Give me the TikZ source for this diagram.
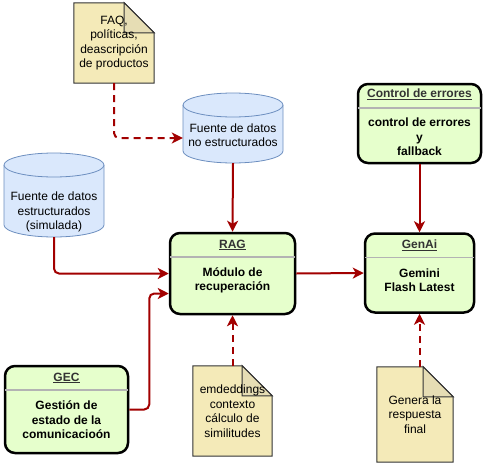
\documentclass[tikz,border=0pt]{standalone}
\usepackage{fontspec}
\setmainfont{Liberation Sans}
\usetikzlibrary{arrows.meta,backgrounds,calc}
\definecolor{boxgreen}{HTML}{E6FFCC}
\definecolor{titlegray}{HTML}{333333}
\definecolor{sepgray}{HTML}{B3B3B3}
\definecolor{dbfill}{HTML}{DAE8FC}
\definecolor{dbline}{HTML}{6C8EBF}
\definecolor{notefill}{HTML}{F4EAB8}
\definecolor{foldfill}{HTML}{E6DDB4}
\definecolor{arrowred}{HTML}{A20000}
\tikzset{
  blk/.style={draw=black, line width=2.5pt, fill=boxgreen, rounded corners=10pt},
  sep/.style={draw=sepgray, line width=1.5pt, shorten <=1.2pt, shorten >=1.2pt},
  ttl/.style={font=\bfseries\fontsize{12}{14}\selectfont, text=titlegray},
  bdy/.style={font=\bfseries\fontsize{12}{14.5}\selectfont, align=center},
  txt/.style={font=\fontsize{12}{14.5}\selectfont, align=center, inner sep=0pt},
  db/.style={draw=dbline, fill=dbfill, line width=0.8pt},
  notebd/.style={draw=titlegray, fill=notefill, line width=1pt},
  foldbd/.style={draw=titlegray, fill=foldfill, line width=1pt},
  arr/.style={draw=arrowred, line width=2pt, rounded corners=5pt,
    -{Stealth[length=11pt, width=11pt, inset=3pt]}},
  dsh/.style={arr, dash pattern=on 7pt off 5pt}
}
\begin{document}
\begin{tikzpicture}[x=1pt,y=1pt]
\useasboundingbox (0,0) rectangle (486,467);

% cylinders
\filldraw[db] (4,302) -- (4,242) arc[start angle=180, end angle=360, x radius=50, y radius=12]
  -- (104,302) arc[start angle=0, end angle=180, x radius=50, y radius=12] -- cycle;
\draw[db] (4,302) arc[start angle=180, end angle=360, x radius=50, y radius=12];
\filldraw[db] (183,362) -- (183,316) arc[start angle=180, end angle=360, x radius=50, y radius=12]
  -- (283,362) arc[start angle=0, end angle=180, x radius=50, y radius=12] -- cycle;
\draw[db] (183,362) arc[start angle=180, end angle=360, x radius=50, y radius=12];

\node[txt, minimum width=100, minimum height=50] (est) at (54,255) {Fuente de datos\\estructurados\\(simulada)};
\node[txt, minimum width=100, minimum height=56] (nes) at (233,332) {Fuente de datos\\no estructurados};

% boxes
\node[blk, minimum width=125, minimum height=81] (rag) at (232.5,193.5) {};
\node[blk, minimum width=109, minimum height=79] (genai) at (419.5,194) {};
\node[blk, minimum width=123, minimum height=79] (ctrl) at (419.5,343.5) {};
\node[blk, minimum width=123, minimum height=87] (gec) at (66.5,57.5) {};
\foreach \b in {rag,genai,ctrl,gec}
  \draw[sep] ([yshift=-25]\b.north west) -- ([yshift=-25]\b.north east);

\node[ttl] (ragT) at (232.5,222) {\underline{RAG}};
\node[bdy] (ragB) at (232.5,186.5) {Módulo de\\recuperación};
\node[ttl] (genT) at (419.5,222) {\underline{GenAi}};
\node[bdy] (genB) at (419.5,187) {Gemini\\Flash Latest};
\node[ttl] (ctrlT) at (419.5,373) {\underline{Control de errores}};
\node[bdy] (ctrlB) at (419.5,330) {control de errores\\y\\fallback};
\node[ttl] (gecT) at (66.5,89) {\underline{GEC}};
\node[bdy] (gecB) at (66.5,47) {Gestión de\\estado de la\\comunicacioón};

% notes
\node[txt, minimum width=80, minimum height=80] (faq) at (114,424) {FAQ,\\políticas,\\deascripción\\de productos};
\node[txt, minimum width=79, minimum height=90] (emb) at (232.5,56) {emdeddings\\contexto\\cálculo de\\similitudes};
\node[txt, minimum width=76, minimum height=95] (fin) at (415,52.5) {Genera la\\respuesta\\final};
\begin{scope}[on background layer]
\foreach \n in {faq,emb,fin} {
  \filldraw[notebd] (\n.north west) -- ([xshift=-30]\n.north east) -- ([yshift=-30]\n.north east)
    -- (\n.south east) -- (\n.south west) -- cycle;
  \filldraw[foldbd] ([xshift=-30]\n.north east) -- ([xshift=-30,yshift=-30]\n.north east)
    -- ([yshift=-30]\n.north east) -- cycle;
}
\end{scope}

% connectors
\draw[dsh] (faq.south) |- ([yshift=-3]nes.west);
\draw[arr] (nes.south) -- (rag.north);
\draw[arr] (est.south) |- (rag.west);
\draw[arr] (gec.east) -- ++(20,0) |- ([yshift=-20]rag.west);
\draw[arr] (rag.east) -- (genai.west);
\draw[arr] (ctrl.south) -- (genai.north);
\draw[dsh] (emb.north) -- (rag.south);
\draw[dsh] (genai.south |- fin.north) -- (genai.south);
\end{tikzpicture}
\end{document}
